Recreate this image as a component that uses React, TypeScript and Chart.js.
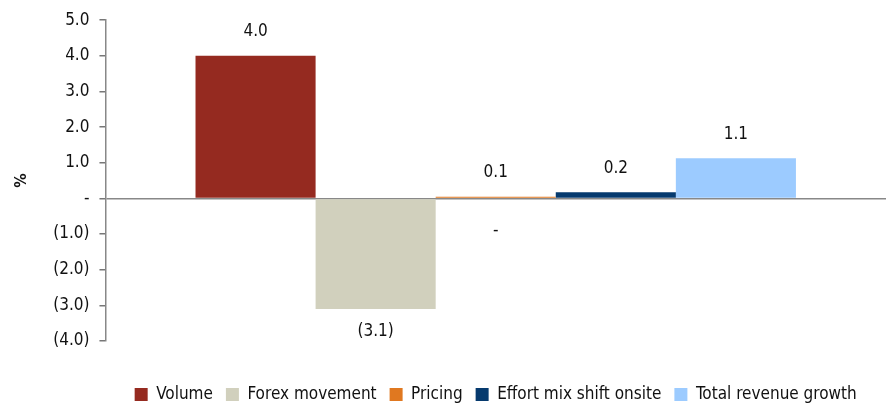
import React, { useEffect, useRef } from "react";
import { Chart, registerables } from "chart.js";

Chart.register(...registerables);

const categories = [""];
const seriesNames = ["Volume", "Forex movement", "Pricing", "Effort mix shift onsite", "Total revenue growth"];
const seriesValues = [4.0, -3.1, 0.05, 0.17, 1.13];
const valueLabels = ["4.0", "(3.1)", "0.1", "0.2", "1.1"];
const extraLabels = ["", "", "-", "", ""];
const seriesColors = ["#952A20", "#D1D0BD", "#E07820", "#063A6E", "#9CCBFF"];
const yTicks = { min: -4, max: 5, step: 1 };

const FONT = "'Liberation Sans Narrow', 'DejaVu Sans Condensed', 'Roboto', sans-serif";

function fmt(v: number): string {
  if (Math.abs(v) < 1e-9) return "-";
  if (v < 0) return "(" + Math.abs(v).toFixed(1) + ")";
  return v.toFixed(1);
}

const labelPlugin = {
  id: "valueLabels",
  afterDatasetsDraw(chart: any) {
    const ctx = chart.ctx;
    const y = chart.scales.y;
    ctx.save();
    ctx.font = `17px ${FONT}`;
    ctx.fillStyle = "#111";
    ctx.textAlign = "center";
    ctx.textBaseline = "middle";
    chart.data.datasets.forEach((ds: any, i: number) => {
      const meta = chart.getDatasetMeta(i);
      const bar = meta.data[0];
      if (!bar) return;
      const v = ds.data[0];
      const top = y.getPixelForValue(Math.max(v, 0));
      const bottom = y.getPixelForValue(Math.min(v, 0));
      if (v >= 0) ctx.fillText(valueLabels[i], bar.x, top - 24);
      else ctx.fillText(valueLabels[i], bar.x, bottom + 23);
      if (extraLabels[i]) ctx.fillText(extraLabels[i], bar.x, y.getPixelForValue(0) + 32);
    });
    ctx.restore();
  },
};

export default function App() {
  const ref = useRef<HTMLCanvasElement>(null);
  useEffect(() => {
    document.body.style.margin = "0";
    const chart = new Chart(ref.current as HTMLCanvasElement, {
      type: "bar",
      data: {
        labels: categories,
        datasets: seriesNames.map((n, i) => ({
          label: n,
          data: [seriesValues[i]],
          backgroundColor: seriesColors[i],
          borderWidth: 0,
          categoryPercentage: 600 / 780,
          barPercentage: 1,
        })),
      },
      options: {
        animation: false,
        responsive: false,
        maintainAspectRatio: false,
        layout: { padding: { top: 14, right: 6, left: 12, bottom: -5 } },
        plugins: {
          tooltip: { enabled: false },
          legend: {
            position: "bottom",
            fullSize: false,
            labels: {
              boxWidth: 13,
              boxHeight: 13,
              padding: 13,
              color: "#111",
              font: { family: FONT, size: 17 },
            },
          },
        },
        scales: {
          x: {
            display: true,
            ticks: { display: false },
            grid: { display: false, drawTicks: false },
            border: { display: false },
            afterFit: (s: any) => {
              s.height = 32;
            },
          },
          y: {
            min: yTicks.min,
            max: yTicks.max,
            title: {
              display: true,
              text: "%",
              color: "#111",
              font: { family: FONT, size: 16, weight: "bold" },
              padding: { top: 0, bottom: 12 },
            },
            ticks: {
              stepSize: yTicks.step,
              color: "#111",
              font: { family: FONT, size: 17 },
              padding: 10,
              callback: (v: any) => fmt(Number(v)),
            },
            grid: {
              color: (c: any) => (c.tick && c.tick.value === 0 ? "#888" : "transparent"),
              lineWidth: 1.5,
              tickColor: "#777",
              tickLength: 6,
              drawTicks: true,
            },
            border: { display: true, color: "#888", width: 1.5 },
          },
        },
      },
      plugins: [labelPlugin],
    });
    return () => chart.destroy();
  }, []);
  return (
    <div style={{ width: 892, height: 408 }}>
      <canvas ref={ref} width={892} height={408} style={{ width: 892, height: 408 }} />
    </div>
  );
}
